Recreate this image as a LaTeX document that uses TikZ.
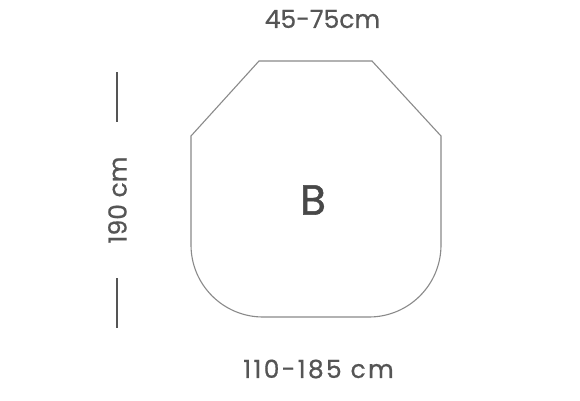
\documentclass[tikz,border=0pt]{standalone}
\usepackage{fontspec}
\setmainfont{Poppins}
\newfontfamily\medfont{Poppins}[FakeBold=0.6]
\newfontfamily\medspaced{Poppins}[FakeBold=0.6,LetterSpace=9]
\newfontfamily\letterfont{Poppins}[FakeBold=1.2]
\definecolor{outl}{HTML}{8A8A8A}
\definecolor{txt}{HTML}{555555}
\definecolor{dimc}{HTML}{555555}
\begin{document}
\begin{tikzpicture}[x=1pt,y=1pt,
  shapeline/.style={draw=outl,line width=1.1pt},
  dimline/.style={draw=dimc,line width=1.4pt},
  dimtext/.style={text=txt,inner sep=0pt,font=\medfont\fontsize{25}{28}\selectfont},
  bigletter/.style={text=txt!85!black,inner sep=0pt,font=\letterfont\fontsize{42}{46}\selectfont}]
\useasboundingbox (0,0) rectangle (580,400);
\fill[white] (0,0) rectangle (580,400);
\draw[shapeline] (259,339) -- (372,339) -- (441,264) -- (441,155)
  arc[start angle=0,end angle=-90,radius=72pt] -- (263,83)
  arc[start angle=270,end angle=180,radius=72pt] -- (191,264) -- cycle;
\node[bigletter] (b) at (313,200) {B};
\node[dimtext] (top) at (322.5,381) {45-75cm};
\node[dimtext,font=\medspaced\fontsize{25}{28}\selectfont] (bot) at (318.5,31) {110-185 cm};
\node[dimtext,rotate=90] (left) at (117.5,200) {190 cm};
\coordinate (l1a) at (117,328);
\coordinate (l1b) at (117,278);
\coordinate (l2a) at (117,122);
\coordinate (l2b) at (117,72);
\draw[dimline] (l1a) -- (l1b);
\draw[dimline] (l2a) -- (l2b);
\end{tikzpicture}
\end{document}
